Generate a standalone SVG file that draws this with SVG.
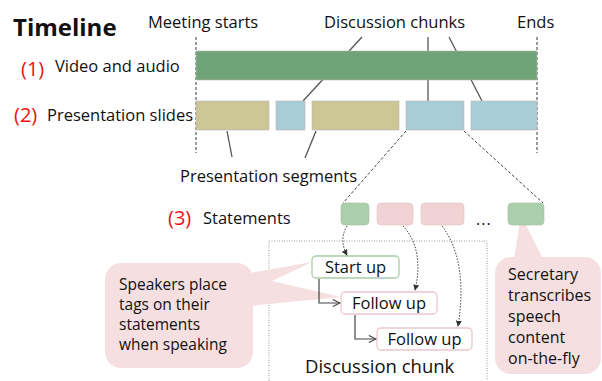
<svg xmlns="http://www.w3.org/2000/svg" width="602" height="381" viewBox="0 0 602 381">
<defs>
<style>
text{font-family:"Open Sans","Noto Sans","Liberation Sans",sans-serif;fill:#111}
.t{font-size:16.5px}
.lab{font-size:16.5px}
.cl{font-size:15.5px}
.cr{font-size:16px}
.num{font-size:20px;fill:#ee1111}
.bar{stroke:#b5b5b5;stroke-width:0.6}
.lead{stroke:#555;stroke-width:1.3;fill:none}
.vdash{stroke:#666;stroke-width:1.3;stroke-dasharray:3 2;fill:none}
.zdash{stroke:#444;stroke-width:1;stroke-dasharray:3 2;fill:none}
.dot{stroke:#444;stroke-width:1;stroke-dasharray:1.5 1.5;fill:none}
.elb{stroke:#444;stroke-width:1.2;fill:none}
.sg{fill:#abcfab;stroke:#9dbf9d;stroke-width:0.6}
.sp{fill:#f2d3d5;stroke:#e2c2c5;stroke-width:0.6}
.callout{fill:#f6dfe1}
.box{fill:#fff;stroke-width:1.3}
.bt{font-size:16.5px}
</style>
<marker id="tri" viewBox="0 0 8 8" refX="7" refY="4" markerWidth="6" markerHeight="6" orient="auto" markerUnits="userSpaceOnUse">
<path d="M0,0 L8,4 L0,8 z" fill="#333"/>
</marker>
<marker id="open" viewBox="0 0 10 10" refX="9" refY="5" markerWidth="9" markerHeight="9" orient="auto" markerUnits="userSpaceOnUse">
<path d="M1,1 L9,5 L1,9" fill="none" stroke="#444" stroke-width="1.2"/>
</marker>
</defs>

<text x="13" y="36" style="font-size:24px;font-weight:bold">Timeline</text>
<text class="t" x="148" y="28">Meeting starts</text>
<text class="t" x="324" y="28">Discussion chunks</text>
<text class="t" x="517" y="28">Ends</text>

<g id="connectors">
<line class="vdash" x1="196" y1="37" x2="196" y2="153"/>
<line class="vdash" x1="537" y1="37" x2="537" y2="153"/>
<line class="lead" x1="362" y1="37" x2="303" y2="101"/>
<line class="lead" x1="428" y1="37" x2="428" y2="101"/>
<line class="lead" x1="449" y1="37" x2="482" y2="101"/>
<line class="lead" x1="227" y1="131" x2="232" y2="157"/>
<line class="lead" x1="316" y1="131" x2="305" y2="158"/>
<line class="zdash" x1="406" y1="131" x2="343" y2="203"/>
<line class="zdash" x1="464" y1="131" x2="543" y2="203"/>
</g>

<g id="row1">
<text class="num" x="21" y="76">(1)</text>
<text class="lab" x="55" y="72">Video and audio</text>
<rect class="bar" x="196" y="51" width="341" height="29" fill="#70a377"/>
</g>

<g id="row2">
<text class="num" x="14" y="122">(2)</text>
<text class="lab" x="47" y="121">Presentation slides</text>
<rect class="bar" x="196" y="101" width="73" height="29" fill="#cdc796"/>
<rect class="bar" x="276" y="101" width="29" height="29" fill="#a8cdd6"/>
<rect class="bar" x="312" y="101" width="87" height="29" fill="#cdc796"/>
<rect class="bar" x="406" y="101" width="58" height="29" fill="#a8cdd6"/>
<rect class="bar" x="471" y="101" width="66" height="29" fill="#a8cdd6"/>
<text class="lab" x="180" y="182">Presentation segments</text>
</g>

<g id="chunk-box">
<path d="M269,381 V241 H487 V381" fill="none" stroke="#999" stroke-width="1" stroke-dasharray="1 1.5"/>
<text x="305" y="373" style="font-size:18.5px">Discussion chunk</text>
</g>

<g id="callout-left">
<rect class="callout" x="105" y="263" width="148" height="105" rx="16"/>
<polygon class="callout" points="250,273 312,262 272,281 341,297 250,306"/>
<text class="cl" x="119" y="290">Speakers place</text>
<text class="cl" x="119" y="310">tags on their</text>
<text class="cl" x="119" y="330">statements</text>
<text class="cl" x="119" y="350">when speaking</text>
</g>

<g id="callout-right">
<rect class="callout" x="495" y="257" width="106" height="117" rx="16"/>
<polygon class="callout" points="514,259 521,215 543,259"/>
<text class="cr" x="508" y="280">Secretary</text>
<text class="cr" x="508" y="301">transcribes</text>
<text class="cr" x="508" y="322">speech</text>
<text class="cr" x="508" y="343">content</text>
<text class="cr" x="508" y="364">on-the-fly</text>
</g>

<g id="row3">
<text class="num" x="168" y="225">(3)</text>
<text class="t" x="203" y="224">Statements</text>
<rect class="sg" x="341" y="203" width="28" height="22" rx="4"/>
<rect class="sp" x="377" y="203" width="36" height="22" rx="4"/>
<rect class="sp" x="421" y="203" width="43" height="22" rx="4"/>
<text x="476" y="225" style="font-size:16px;letter-spacing:1px">...</text>
<rect class="sg" x="508" y="203" width="36" height="22" rx="4"/>
</g>

<g id="start-up">
<rect class="box" x="312" y="256" width="87" height="22" rx="4" stroke="#a8cca8"/>
<text class="bt" x="355.5" y="273" text-anchor="middle">Start up</text>
</g>
<g id="follow-up-1">
<rect class="box" x="341" y="292" width="96" height="22" rx="4" stroke="#ecc8cb"/>
<text class="bt" x="389" y="309" text-anchor="middle">Follow up</text>
</g>
<g id="follow-up-2">
<rect class="box" x="377" y="328" width="95" height="22" rx="4" stroke="#ecc8cb"/>
<text class="bt" x="424.5" y="345" text-anchor="middle">Follow up</text>
</g>

<g id="tag-connectors">
<path class="dot" d="M347,226 C341,236 342,246 347,255" marker-end="url(#tri)"/>
<path class="dot" d="M403,226 C418,242 421,265 415,290" marker-end="url(#tri)"/>
<path class="dot" d="M442,226 C462,252 464,290 458,326" marker-end="url(#tri)"/>
<path class="elb" d="M319,279 V303 H340" marker-end="url(#open)"/>
<path class="elb" d="M355,315 V339 H376" marker-end="url(#open)"/>
</g>
</svg>
